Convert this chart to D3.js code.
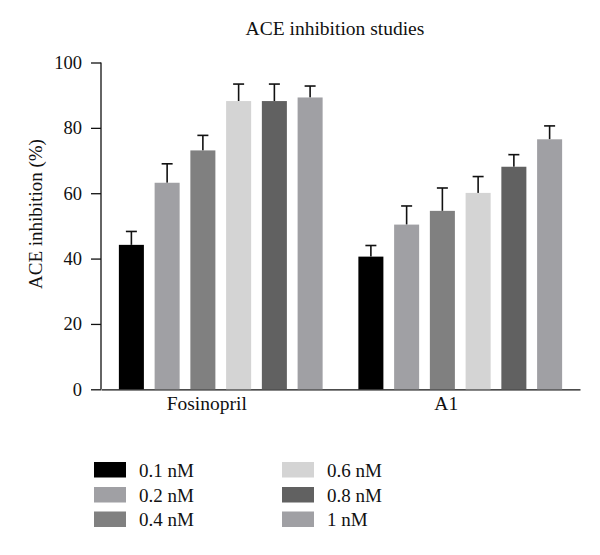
<!DOCTYPE html>
<html><head><meta charset="utf-8">
<script src="https://cdn.jsdelivr.net/npm/d3@7"></script>
<style>body{margin:0;background:#fff}svg{display:block}text{font-family:"Liberation Serif","DejaVu Serif",serif;fill:#111}</style>
</head><body>
<svg id="c" width="600" height="555"></svg>
<script>
const categories = ["Fosinopril", "A1"];
const seriesNames = ["0.1 nM", "0.2 nM", "0.4 nM", "0.6 nM", "0.8 nM", "1 nM"];
const seriesColors = ["#000000", "#a0a0a4", "#808080", "#d4d4d4", "#616161", "#a0a0a4"];
const fosinoprilValues = [44.2, 63.2, 73.1, 88.2, 88.2, 89.3];
const fosinoprilErrors = [4.1, 5.8, 4.6, 5.2, 5.2, 3.5];
const a1Values = [40.6, 50.4, 54.6, 60.1, 68.1, 76.5];
const a1Errors = [3.4, 5.7, 7.0, 5.0, 3.7, 4.1];
const yTicks = [0, 20, 40, 60, 80, 100];

const values = [fosinoprilValues, a1Values];
const errors = [fosinoprilErrors, a1Errors];

const svg = d3.select("#c");
const x0 = d3.scaleBand().domain(categories).range([101, 580]).paddingInner(0).paddingOuter(0);
const x1 = d3.scaleBand().domain(seriesNames).range([0, x0.bandwidth()]).paddingInner(0.3).paddingOuter(0.5);
const y = d3.scaleLinear().domain([0, 100]).range([389.3, 62.5]);

// title
svg.append("text").attr("x", 335).attr("y", 35).attr("text-anchor", "middle")
  .style("font-size", "19.5px").text("ACE inhibition studies");

// y axis
const ya = svg.append("g").attr("transform", "translate(101,0)")
  .call(d3.axisLeft(y).tickValues(yTicks).tickSize(10).tickPadding(9).tickFormat(d3.format("d")));
ya.selectAll("path,line").attr("stroke", "#111").attr("stroke-width", 1.3);
ya.select(".domain").attr("d", `M0,${y(100)}V${y(0)}`);
ya.selectAll("text").style("font-size", "18.5px").style("font-family", "Liberation Serif, serif").attr("fill", "#111");

// x axis
const xa = svg.append("g").attr("transform", `translate(0,${y(0)})`)
  .call(d3.axisBottom(x0).tickSize(0).tickPadding(0));
xa.selectAll(".domain").attr("stroke", "#111").attr("stroke-width", 1.3);
xa.selectAll("text").attr("dy", null).attr("y", 21).attr("dx", -14)
  .style("font-size", "19.5px").style("font-family", "Liberation Serif, serif").attr("fill", "#111");

// y label
svg.append("text").attr("transform", "translate(42,214) rotate(-90)").attr("text-anchor", "middle")
  .style("font-size", "19px").text("ACE inhibition (%)");

// bars
categories.forEach((cat, ci) => {
  const g = svg.append("g").attr("transform", `translate(${x0(cat)},0)`);
  seriesNames.forEach((s, si) => {
    const v = values[ci][si], e = errors[ci][si];
    const bx = x1(s), bw = x1.bandwidth(), cx = bx + bw / 2;
    g.append("line").attr("x1", cx).attr("x2", cx).attr("y1", y(v)).attr("y2", y(v + e))
      .attr("stroke", "#111").attr("stroke-width", 1.6);
    g.append("line").attr("x1", cx - 5.5).attr("x2", cx + 5.5).attr("y1", y(v + e)).attr("y2", y(v + e))
      .attr("stroke", "#111").attr("stroke-width", 1.6);
    g.append("rect").attr("x", bx).attr("width", bw).attr("y", y(v)).attr("height", y(0) - y(v))
      .attr("fill", seriesColors[si]);
  });
});

// legend
const legPos = [[94, 462], [94, 487], [94, 511.5], [282, 462], [282, 487], [282, 511.5]];
seriesNames.forEach((s, i) => {
  const [lx, ly] = legPos[i];
  svg.append("rect").attr("x", lx).attr("y", ly).attr("width", 32).attr("height", 15.5).attr("fill", seriesColors[i]);
  svg.append("text").attr("x", lx + 45).attr("y", ly + 14.5).style("font-size", "19px").text(s);
});
</script>
</body></html>
